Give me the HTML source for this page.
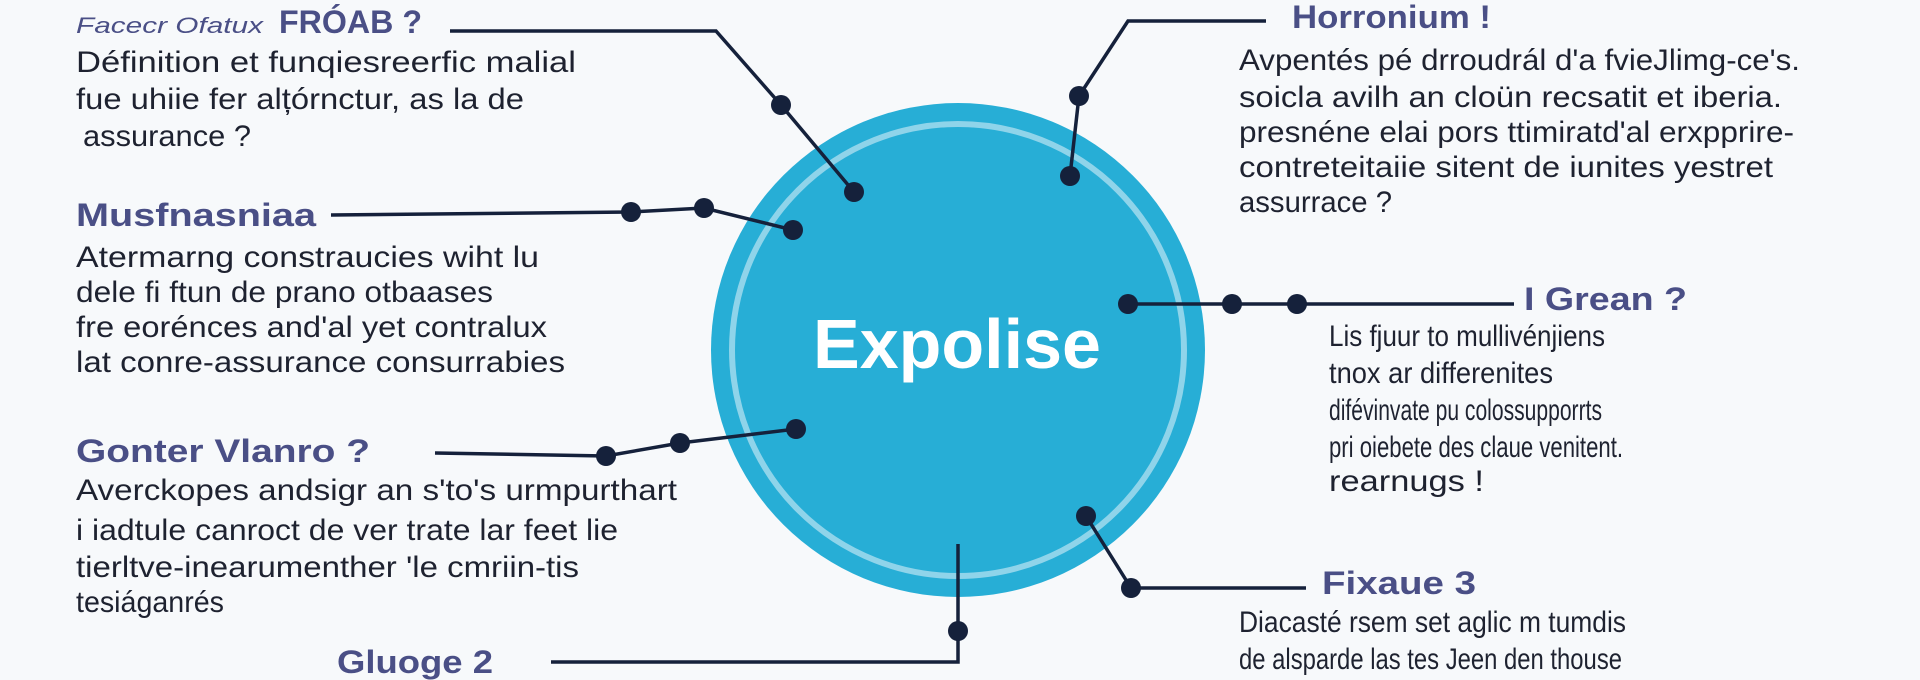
<!DOCTYPE html>
<html><head><meta charset="utf-8"><style>
html,body{margin:0;padding:0;background:#f7f9fb;}
svg{display:block;}
.h{font-family:"Liberation Sans",sans-serif;font-weight:bold;font-size:32px;fill:#4a4f86;}
.b{font-family:"Liberation Sans",sans-serif;font-size:30px;fill:#1e2230;}
</style></head><body>
<svg width="1920" height="680" viewBox="0 0 1920 680" xmlns="http://www.w3.org/2000/svg">
<rect width="1920" height="680" fill="#f7f9fb"/>
<circle cx="958" cy="350" r="247" fill="#27aed6"/>
<circle cx="958" cy="350" r="226" fill="none" stroke="#8fd4ea" stroke-width="6"/>
<text x="957" y="368" text-anchor="middle" font-family="Liberation Sans,sans-serif" font-weight="bold" font-size="70" fill="#fff">Expolise</text>
<g stroke="#15213b" stroke-width="3.5" fill="none">
<polyline points="450,31 716,31 781,105 854,192"/>
<polyline points="331,215 631,212 704,208 793,230"/>
<polyline points="435,453 606,456 680,443 796,429"/>
<polyline points="551,662 958,662 958,544"/>
<polyline points="1266,21 1128,21 1079,96 1070,176"/>
<polyline points="1128,304 1514,304"/>
<polyline points="1086,516 1131,588 1306,588"/>
</g>
<g fill="#15213b">
<circle cx="781" cy="105" r="10"/><circle cx="854" cy="192" r="10"/>
<circle cx="631" cy="212" r="10"/><circle cx="704" cy="208" r="10"/><circle cx="793" cy="230" r="10"/>
<circle cx="606" cy="456" r="10"/><circle cx="680" cy="443" r="10"/><circle cx="796" cy="429" r="10"/>
<circle cx="958" cy="631" r="10"/>
<circle cx="1079" cy="96" r="10"/><circle cx="1070" cy="176" r="10"/>
<circle cx="1128" cy="304" r="10"/><circle cx="1232" cy="304" r="10"/><circle cx="1297" cy="304" r="10"/>
<circle cx="1086" cy="516" r="10"/><circle cx="1131" cy="588" r="10"/>
</g>
<text x="76" y="33" font-family="Liberation Sans,sans-serif" font-style="italic" font-size="22" fill="#4a4f86" textLength="187" lengthAdjust="spacingAndGlyphs">Facecr Ofatux</text>
<text x="279" y="33" class="h" textLength="143" lengthAdjust="spacingAndGlyphs">FRÓAB ?</text>
<text class="b"><tspan x="76" y="72" textLength="500" lengthAdjust="spacingAndGlyphs">Définition et funqiesreerfic malial</tspan></text>
<text class="b"><tspan x="76" y="109" textLength="448" lengthAdjust="spacingAndGlyphs">fue uhiie fer alțórnctur, as la de</tspan></text>
<text class="b"><tspan x="83" y="146" textLength="168" lengthAdjust="spacingAndGlyphs">assurance ?</tspan></text>
<text x="76" y="226" class="h" textLength="240" lengthAdjust="spacingAndGlyphs">Musfnasniaa</text>
<text class="b" x="76" y="267" textLength="463" lengthAdjust="spacingAndGlyphs">Atermarng constraucies wiht lu</text>
<text class="b" x="76" y="302" textLength="417" lengthAdjust="spacingAndGlyphs">dele fi ftun de prano otbaases</text>
<text class="b" x="76" y="337" textLength="471" lengthAdjust="spacingAndGlyphs">fre eorénces and'al yet contralux</text>
<text class="b" x="76" y="372" textLength="489" lengthAdjust="spacingAndGlyphs">lat conre-assurance consurrabies</text>
<text x="76" y="462" class="h" textLength="294" lengthAdjust="spacingAndGlyphs">Gonter Vlanro ?</text>
<text class="b" x="76" y="500" textLength="601" lengthAdjust="spacingAndGlyphs">Averckopes andsigr an s'to's urmpurthart</text>
<text class="b" x="76" y="540" textLength="542" lengthAdjust="spacingAndGlyphs">i iadtule canroct de ver trate lar feet lie</text>
<text class="b" x="76" y="577" textLength="503" lengthAdjust="spacingAndGlyphs">tierltve-inearumenther 'le cmriin-tis</text>
<text class="b" x="76" y="612" textLength="148" lengthAdjust="spacingAndGlyphs">tesiáganrés</text>
<text x="337" y="673" class="h" textLength="156" lengthAdjust="spacingAndGlyphs">Gluoge 2</text>
<text x="1292" y="28" class="h" textLength="199" lengthAdjust="spacingAndGlyphs">Horronium !</text>
<text class="b" x="1239" y="70" textLength="561" lengthAdjust="spacingAndGlyphs">Avpentés pé drroudrál d'a fvieJlimg-ce's.</text>
<text class="b" x="1239" y="107" textLength="543" lengthAdjust="spacingAndGlyphs">soicla avilh an cloün recsatit et iberia.</text>
<text class="b" x="1239" y="142" textLength="555" lengthAdjust="spacingAndGlyphs">presnéne elai pors ttimiratd'al erxpprire-</text>
<text class="b" x="1239" y="177" textLength="534" lengthAdjust="spacingAndGlyphs">contreteitaiie sitent de iunites yestret</text>
<text class="b" x="1239" y="212" textLength="153" lengthAdjust="spacingAndGlyphs">assurrace ?</text>
<text x="1524" y="310" class="h" textLength="163" lengthAdjust="spacingAndGlyphs">I Grean ?</text>
<text class="b" x="1329" y="346" textLength="276" lengthAdjust="spacingAndGlyphs">Lis fjuur to mullivénjiens</text>
<text class="b" x="1329" y="383" textLength="224" lengthAdjust="spacingAndGlyphs">tnox ar differenites</text>
<text class="b" x="1329" y="420" textLength="273" lengthAdjust="spacingAndGlyphs">difévinvate pu colossupporrts</text>
<text class="b" x="1329" y="457" textLength="294" lengthAdjust="spacingAndGlyphs">pri oiebete des claue venitent.</text>
<text class="b" x="1329" y="491" textLength="155" lengthAdjust="spacingAndGlyphs">rearnugs !</text>
<text x="1322" y="594" class="h" textLength="154" lengthAdjust="spacingAndGlyphs">Fixaue 3</text>
<text class="b" x="1239" y="632" textLength="387" lengthAdjust="spacingAndGlyphs">Diacasté rsem set aglic m tumdis</text>
<text class="b" x="1239" y="669" textLength="383" lengthAdjust="spacingAndGlyphs">de alsparde las tes Jeen den thouse</text>
</svg>
</body></html>
